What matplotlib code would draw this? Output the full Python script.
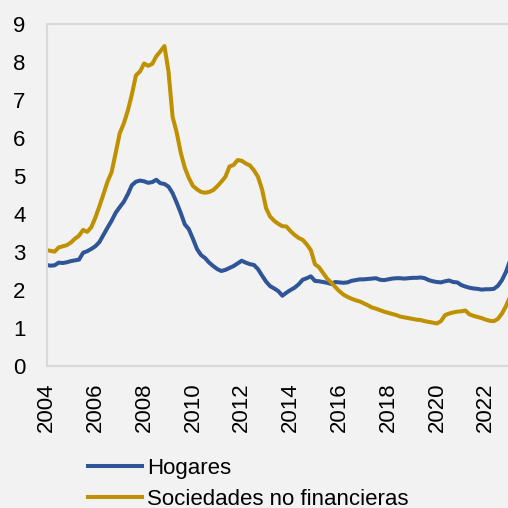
import matplotlib
matplotlib.use("Agg")
import matplotlib.pyplot as plt
import numpy as np

# Bimonthly observations starting Jan 2004 (step = 2 months)
start_year = 2004
steps_per_year = 6

hogares = [
    2.66, 2.64, 2.65, 2.72, 2.71, 2.73, 2.76, 2.78, 2.80, 2.98, 3.02, 3.08,
    3.15, 3.26, 3.45, 3.64, 3.82, 4.03, 4.18, 4.32, 4.52, 4.76, 4.85, 4.88,
    4.86, 4.82, 4.84, 4.90, 4.81, 4.79, 4.72, 4.55, 4.30, 4.03, 3.73, 3.60,
    3.35, 3.08, 2.92, 2.84, 2.72, 2.63, 2.55, 2.50, 2.53, 2.58, 2.63, 2.70,
    2.77, 2.72, 2.68, 2.66, 2.55, 2.38, 2.22, 2.10, 2.04, 1.97, 1.85, 1.93,
    2.00, 2.06, 2.15, 2.27, 2.31, 2.36, 2.24, 2.23, 2.21, 2.19, 2.16, 2.21,
    2.20, 2.19, 2.20, 2.24, 2.26, 2.28, 2.28, 2.29, 2.30, 2.31, 2.27, 2.26,
    2.28, 2.30, 2.31, 2.31, 2.30, 2.31, 2.32, 2.32, 2.33, 2.31, 2.26, 2.23,
    2.21, 2.20, 2.23, 2.25, 2.21, 2.20, 2.13, 2.09, 2.06, 2.04, 2.03, 2.01,
    2.02, 2.02, 2.03, 2.11, 2.26, 2.48, 2.78,
]

sociedades = [
    3.05, 3.03, 3.01, 3.12, 3.15, 3.18, 3.25, 3.35, 3.43, 3.58, 3.53, 3.65,
    3.90, 4.20, 4.52, 4.85, 5.10, 5.60, 6.12, 6.38, 6.72, 7.15, 7.65, 7.75,
    7.96, 7.90, 7.95, 8.15, 8.28, 8.42, 7.75, 6.56, 6.15, 5.62, 5.22, 4.95,
    4.74, 4.65, 4.58, 4.56, 4.58, 4.63, 4.73, 4.85, 4.98, 5.25, 5.29, 5.42,
    5.40, 5.33, 5.28, 5.15, 4.98, 4.65, 4.15, 3.93, 3.82, 3.74, 3.68, 3.67,
    3.55, 3.45, 3.37, 3.32, 3.20, 3.05, 2.68, 2.60, 2.45, 2.30, 2.20, 2.08,
    1.97, 1.88, 1.82, 1.77, 1.73, 1.70, 1.65, 1.60, 1.54, 1.51, 1.47, 1.43,
    1.40, 1.37, 1.34, 1.30, 1.28, 1.26, 1.24, 1.22, 1.21, 1.18, 1.16, 1.14,
    1.12, 1.18, 1.34, 1.38, 1.41, 1.43, 1.44, 1.46, 1.36, 1.32, 1.29, 1.26,
    1.22, 1.19, 1.18, 1.24, 1.38, 1.58, 1.82,
]

series_labels = ["Hogares", "Sociedades no financieras"]
x_ticks = [2004, 2006, 2008, 2010, 2012, 2014, 2016, 2018, 2020, 2022]
y_ticks = [0, 1, 2, 3, 4, 5, 6, 7, 8, 9]

t = start_year + np.arange(len(hogares)) / steps_per_year

plt.rcParams['font.family'] = ['Liberation Sans', 'DejaVu Sans']

W = H = 508
fig = plt.figure(figsize=(5.08, 5.08), dpi=100)
bg = "#F2F2F2"
fig.patch.set_facecolor(bg)

left_px, right_px, top_px, bottom_px = 46.5, 508, 24, 366
ax = fig.add_axes([left_px / W, 1 - bottom_px / H,
                   (right_px - left_px) / W, (bottom_px - top_px) / H])
ax.set_facecolor(bg)

px_per_year = 24.4
ax.set_xlim(2004, 2004 + (right_px - left_px) / px_per_year)
ax.set_ylim(0, 9)

blue = "#2F5597"
gold = "#BF9000"
ax.plot(t, hogares, color=blue, lw=2.9, label=series_labels[0], solid_joinstyle='round')
ax.plot(t, sociedades, color=gold, lw=2.9, label=series_labels[1], solid_joinstyle='round')

ax.set_xticks(x_ticks)
ax.set_xticklabels([str(v) for v in x_ticks], rotation=90)
ax.set_yticks(y_ticks)
ax.tick_params(axis='both', length=0, labelsize=16, colors='black')
ax.tick_params(axis='y', pad=15)
ax.tick_params(axis='x', pad=12)

for s in ['left', 'bottom', 'top']:
    ax.spines[s].set_color('#D9D9D9')
    ax.spines[s].set_linewidth(1.5)
ax.spines['right'].set_visible(False)

leg = fig.legend(loc='upper left', bbox_to_anchor=(88 / W, 1 - 458 / H),
                 frameon=False, fontsize=16, handlelength=2.45,
                 handletextpad=0.2, labelspacing=0.45, borderpad=0,
                 borderaxespad=0)
for line in leg.get_lines():
    line.set_linewidth(2.9)

fig.savefig("out.png", dpi=100, facecolor=bg)
